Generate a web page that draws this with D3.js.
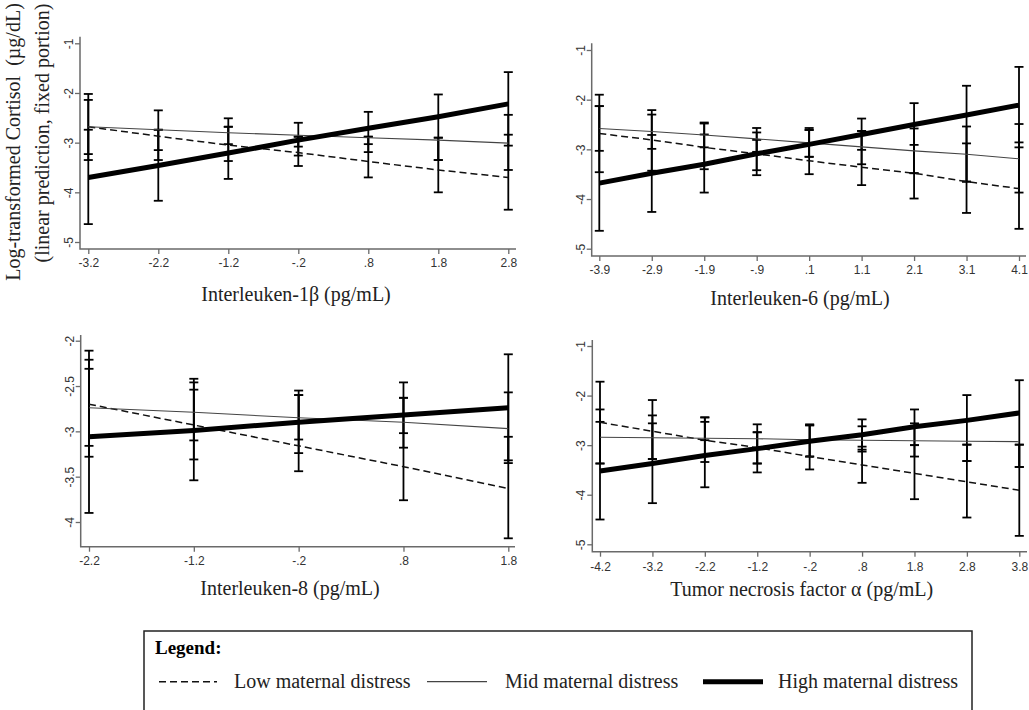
<!DOCTYPE html>
<meta charset="utf-8">
<body style="margin:0;background:#fff">
<svg width="1029" height="710"></svg>
<script src="https://cdnjs.cloudflare.com/ajax/libs/d3/7.8.5/d3.min.js"></script>
<script>

// series names (legend)
var seriesNames = ["Low maternal distress", "Mid maternal distress", "High maternal distress"];

// y tick values
var cortTicks = [-1, -2, -3, -4, -5];
var il8YTicks = [-2, -2.5, -3, -3.5, -4];

// Interleuken-1b
var il1bTicks = [-3.2, -2.2, -1.2, -0.2, 0.8, 1.8, 2.8];
var il1bLow  = [-2.68, -2.87, -3.05, -3.20, -3.38, -3.55, -3.70];
var il1bMid  = [-2.68, -2.74, -2.80, -2.85, -2.90, -2.95, -3.01];
var il1bHigh = [-3.70, -3.46, -3.21, -2.95, -2.71, -2.48, -2.22];
var il1bLowCI  = [[-2.74,-3.23],[-2.74,-3.35],[-2.68,-3.37],[-2.88,-3.26],[-2.88,-3.19],[-2.90,-3.35],[-2.44,-3.55]];
var il1bMidCI  = [[-2.14,-3.35],[-2.74,-3.15],[-2.68,-3.03],[-2.88,-3.08],[-2.88,-3.03],[-2.90,-3.35],[-2.84,-3.06]];
var il1bHighCI = [[-2.02,-4.64],[-2.35,-4.17],[-2.51,-3.73],[-2.60,-3.47],[-2.38,-3.70],[-2.03,-4.00],[-1.58,-4.35]];

// Interleuken-6
var il6Ticks = [-3.9, -2.9, -1.9, -0.9, 0.1, 1.1, 2.1, 3.1, 4.1];
var il6Low  = [-2.68, -2.81, -2.96, -3.09, -3.23, -3.36, -3.48, -3.65, -3.79];
var il6Mid  = [-2.58, -2.64, -2.71, -2.79, -2.87, -2.95, -3.03, -3.10, -3.19];
var il6High = [-3.68, -3.48, -3.30, -3.09, -2.90, -2.70, -2.50, -2.31, -2.11];
var il6LowCI  = [[-2.13,-3.46],[-2.71,-3.43],[-2.70,-3.40],[-2.81,-3.42],[-2.61,-3.15],[-2.63,-3.30],[-2.91,-3.48],[-2.88,-3.65],[-2.86,-3.87]];
var il6MidCI  = [[-2.13,-3.03],[-2.30,-2.99],[-2.48,-2.96],[-2.66,-3.05],[-2.61,-3.15],[-2.63,-3.01],[-2.58,-3.48],[-2.54,-3.65],[-2.49,-2.96]];
var il6HighCI = [[-1.90,-4.64],[-2.21,-4.26],[-2.46,-3.87],[-2.57,-3.52],[-2.57,-3.50],[-2.38,-3.72],[-2.07,-3.99],[-1.72,-4.28],[-1.34,-4.60]];

// Interleuken-8
var il8Ticks = [-2.2, -1.2, -0.2, 0.8, 1.8];
var il8Low  = [-2.70, -2.93, -3.16, -3.39, -3.63];
var il8Mid  = [-2.74, -2.79, -2.85, -2.90, -2.97];
var il8High = [-3.06, -2.99, -2.90, -2.82, -2.74];
var il8LowCI  = [[-2.31,-3.16],[-2.54,-3.31],[-2.60,-3.24],[-2.63,-3.18],[-3.06,-3.35]];
var il8MidCI  = [[-2.21,-3.28],[-2.46,-3.10],[-2.60,-3.09],[-2.63,-3.02],[-2.57,-3.32]];
var il8HighCI = [[-2.11,-3.90],[-2.42,-3.54],[-2.55,-3.44],[-2.46,-3.76],[-2.15,-4.18]];

// Tumor necrosis factor alpha
var tnfTicks = [-4.2, -3.2, -2.2, -1.2, -0.2, 0.8, 1.8, 2.8, 3.8];
var tnfLow  = [-2.54, -2.72, -2.90, -3.05, -3.23, -3.40, -3.57, -3.74, -3.91];
var tnfMid  = [-2.84, -2.85, -2.86, -2.87, -2.89, -2.90, -2.91, -2.92, -2.93];
var tnfHigh = [-3.52, -3.37, -3.21, -3.07, -2.92, -2.79, -2.63, -2.50, -2.35];
var tnfLowCI  = [[-2.28,-3.37],[-2.40,-3.28],[-2.44,-2.90],[-2.74,-3.37],[-2.60,-3.23],[-3.03,-3.13],[-3.00,-3.23],[-2.99,-3.32],[-2.99,-3.44]];
var tnfMidCI  = [[-2.53,-3.37],[-2.56,-3.28],[-2.53,-3.34],[-2.74,-3.37],[-2.60,-3.23],[-2.62,-3.09],[-2.56,-3.00],[-2.99,-3.32],[-2.99,-3.44]];
var tnfHighCI = [[-1.72,-4.50],[-2.09,-4.17],[-2.44,-3.85],[-2.58,-3.55],[-2.58,-3.49],[-2.48,-3.76],[-2.28,-4.09],[-1.99,-4.46],[-1.69,-4.83]];

var serif = "'Liberation Serif','Times New Roman',serif";
var sans = "'Liberation Sans',Arial,sans-serif";

var panels = [
  {title: "Interleuken-1\u03b2 (pg/mL)", xt: il1bTicks, yt: cortTicks,
   series: [il1bLow, il1bMid, il1bHigh], ci: [il1bLowCI, il1bMidCI, il1bHighCI],
   l: 80, r: 516, t: 36.7, b: 249, xr: [88.3, 508.3], yr: [43.3, 242], tx: 296, ty: 52, ly: 18},
  {title: "Interleuken-6 (pg/mL)", xt: il6Ticks, yt: cortTicks,
   series: [il6Low, il6Mid, il6High], ci: [il6LowCI, il6MidCI, il6HighCI],
   l: 591.7, r: 1026, t: 43.3, b: 256, xr: [599.3, 1019], yr: [50, 248.7], tx: 800, ty: 49, ly: 18},
  {title: "Interleuken-8 (pg/mL)", xt: il8Ticks, yt: il8YTicks,
   series: [il8Low, il8Mid, il8High], ci: [il8LowCI, il8MidCI, il8HighCI],
   l: 80.7, r: 515, t: 335, b: 546.7, xr: [89, 508.3], yr: [340.7, 522], tx: 290, ty: 48, ly: 18},
  {title: "Tumor necrosis factor \u03b1 (pg/mL)", xt: tnfTicks, yt: cortTicks,
   series: [tnfLow, tnfMid, tnfHigh], ci: [tnfLowCI, tnfMidCI, tnfHighCI],
   l: 592.3, r: 1027, t: 340, b: 551.7, xr: [600, 1019.3], yr: [346, 544.3], tx: 801.7, ty: 44, ly: 19}
];

// line styles: low, mid, high
var styles = [
  {stroke: "#111", width: 1.5, dash: "7,4"},
  {stroke: "#444", width: 1.1, dash: null},
  {stroke: "#000", width: 5, dash: null}
];

function fmt(v) {
  return String(+v.toFixed(2)).replace(/^(-?)0\./, "$1.");
}

var svg = d3.select("svg");

panels.forEach(function(p) {
  var x = d3.scaleLinear().domain([p.xt[0], p.xt[p.xt.length - 1]]).range(p.xr);
  var y = d3.scaleLinear().domain([p.yt[0], p.yt[p.yt.length - 1]]).range(p.yr);
  var g = svg.append("g");

  // axis lines
  g.append("path")
    .attr("d", "M" + p.l + "," + p.t + "V" + p.b + "H" + p.r)
    .attr("fill", "none").attr("stroke", "#6a6a6a").attr("stroke-width", 1.5);

  var ya = g.append("g").attr("transform", "translate(" + p.l + ",0)")
    .call(d3.axisLeft(y).tickValues(p.yt).tickSize(5).tickFormat(fmt));
  var xa = g.append("g").attr("transform", "translate(0," + p.b + ")")
    .call(d3.axisBottom(x).tickValues(p.xt).tickSize(5).tickFormat(fmt));

  [ya, xa].forEach(function(a) {
    a.select(".domain").remove();
    a.selectAll("line").attr("stroke", "#6a6a6a").attr("stroke-width", 1.3);
    a.selectAll("text").attr("fill", "#333").style("font-family", sans).style("font-size", "12px");
  });
  ya.selectAll("text")
    .attr("transform", "rotate(-90)")
    .attr("x", 0).attr("y", -7).attr("dy", null)
    .style("text-anchor", "middle");
  xa.selectAll("text").attr("y", p.ly).attr("dy", null);

  // x title
  g.append("text")
    .attr("x", p.tx).attr("y", p.b + p.ty)
    .attr("text-anchor", "middle")
    .style("font-family", serif).style("font-size", "20px").attr("fill", "#222")
    .text(p.title);

  // error bars
  p.ci.forEach(function(ci) {
    var eb = g.append("g").selectAll("g").data(ci).enter().append("g")
      .attr("stroke", "#000").attr("stroke-width", 1.8);
    eb.append("line")
      .attr("x1", function(d, i) { return x(p.xt[i]); })
      .attr("x2", function(d, i) { return x(p.xt[i]); })
      .attr("y1", function(d) { return y(d[0]); })
      .attr("y2", function(d) { return y(d[1]); });
    [0, 1].forEach(function(k) {
      eb.append("line")
        .attr("x1", function(d, i) { return x(p.xt[i]) - 4.5; })
        .attr("x2", function(d, i) { return x(p.xt[i]) + 4.5; })
        .attr("y1", function(d) { return y(d[k]); })
        .attr("y2", function(d) { return y(d[k]); });
    });
  });

  // prediction lines
  var line = d3.line().x(function(d, i) { return x(p.xt[i]); }).y(function(d) { return y(d); });
  p.series.forEach(function(s, k) {
    g.append("path").datum(s)
      .attr("d", line)
      .attr("fill", "none")
      .attr("stroke", styles[k].stroke)
      .attr("stroke-width", styles[k].width)
      .attr("stroke-dasharray", styles[k].dash);
  });
});

// y axis title (first panel only)
var yt = svg.append("g").style("font-family", serif).style("font-size", "20px").attr("fill", "#222");
yt.append("text")
  .attr("transform", "translate(20,142) rotate(-90)")
  .attr("text-anchor", "middle")
  .style("white-space", "pre")
  .text("Log-transformed Cortisol  (\u00b5g/dL)");
yt.append("text")
  .attr("transform", "translate(49,133) rotate(-90)")
  .attr("text-anchor", "middle")
  .text("(linear prediction, fixed portion)");

// legend
var lg = svg.append("g");
lg.append("rect")
  .attr("x", 144).attr("y", 631).attr("width", 828).attr("height", 100)
  .attr("fill", "none").attr("stroke", "#222").attr("stroke-width", 1.5);
lg.append("text")
  .attr("x", 155).attr("y", 654)
  .style("font-family", serif).style("font-size", "19px").style("font-weight", "bold")
  .text("Legend:");

var legPos = [{x1: 159, x2: 217, tx: 234}, {x1: 427, x2: 487, tx: 505}, {x1: 703, x2: 763, tx: 778}];
seriesNames.forEach(function(name, k) {
  lg.append("line")
    .attr("x1", legPos[k].x1).attr("x2", legPos[k].x2)
    .attr("y1", 681.7).attr("y2", 681.7)
    .attr("stroke", styles[k].stroke)
    .attr("stroke-width", k == 1 ? 1.3 : styles[k].width)
    .attr("stroke-dasharray", styles[k].dash);
  lg.append("text")
    .attr("x", legPos[k].tx).attr("y", 688)
    .style("font-family", serif).style("font-size", "20px").attr("fill", "#222")
    .text(name);
});
</script>
